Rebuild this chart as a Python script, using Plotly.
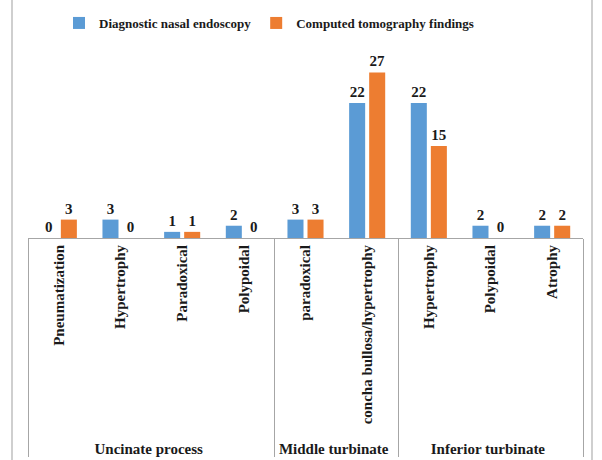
import plotly.graph_objects as go

groups = ["Uncinate process"] * 4 + ["Middle turbinate"] * 2 + ["Inferior turbinate"] * 3
findings = ["Pneumatization", "Hypertrophy", "Paradoxical", "Polypoidal",
            "paradoxical", "concha bullosa/hypertrophy",
            "Hypertrophy", "Polypoidal", "Atrophy"]
endoscopy = [0, 3, 1, 2, 3, 22, 22, 2, 2]
ct_findings = [3, 0, 1, 0, 3, 27, 15, 0, 2]

font_family = "Liberation Serif, Times New Roman, serif"
text_color = "#1a1a1a"
blue = "#5B9BD5"
orange = "#ED7D31"

fig = go.Figure()
for name, vals, color in [("Diagnostic nasal endoscopy", endoscopy, blue),
                          ("Computed tomography findings", ct_findings, orange)]:
    fig.add_trace(go.Bar(
        x=[groups, findings], y=vals, name=name,
        marker=dict(color=color, line=dict(width=0)),
        text=[str(v) for v in vals], textposition="outside",
        textfont=dict(family=font_family, size=15, color=text_color, weight="bold"),
        cliponaxis=False,
    ))

fig.update_layout(
    width=602, height=460,
    margin=dict(l=28, r=19, t=54, b=222, autoexpand=False),
    paper_bgcolor="white", plot_bgcolor="white",
    barmode="group", bargap=0.35, bargroupgap=0.2,
    font=dict(family=font_family, color=text_color, weight="bold"),
    showlegend=True,
    legend=dict(orientation="h", x=0.5 - 32 / 602, xref="container", xanchor="center",
                y=1 - 23 / 460, yref="container", yanchor="middle",
                font=dict(family=font_family, size=13, color=text_color, weight="bold"),
                itemwidth=30, traceorder="normal"),
    xaxis=dict(type="multicategory", showline=True, linecolor="#A6A6A6", linewidth=1,
               showdividers=True, dividercolor="#A6A6A6", dividerwidth=1,
               tickangle=-90, ticks="", showgrid=False,
               tickfont=dict(family=font_family, size=15, color=text_color, weight="bold")),
    yaxis=dict(range=[0, 30], visible=False, showgrid=False, zeroline=False),
)

# chart-area border
fig.add_shape(type="line", xref="paper", yref="paper",
              x0=-16 / 555, x1=-16 / 555, y0=-2, y1=2, line=dict(color="#BFBFBF", width=1.5))
fig.add_shape(type="line", xref="paper", yref="paper",
              x0=1 + 9 / 555, x1=1 + 9 / 555, y0=-2, y1=2, line=dict(color="#BFBFBF", width=1.5))

fig.write_html("out.html")
